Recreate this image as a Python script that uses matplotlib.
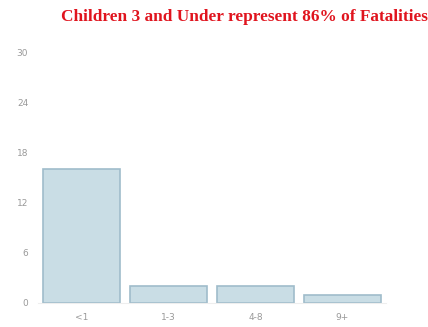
import matplotlib.pyplot as plt

ages = ['<1', '1-3', '4-8', '9+']
fatalities = [16, 2, 2, 1]
y_ticks = [0, 6, 12, 18, 24, 30]

fig = plt.figure(figsize=(4.28, 3.27), dpi=100)
ax = fig.add_axes([38 / 428, 24 / 327, 348 / 428, 251 / 327])

ax.bar(range(len(ages)), fatalities, width=0.885, color='#c9dde5',
       edgecolor='#9fbccb', linewidth=1.2)

ax.set_xlim(-0.5, len(ages) - 0.5)
ax.set_ylim(0, 30)
ax.set_yticks(y_ticks)
ax.set_xticks(range(len(ages)))
ax.set_xticklabels(ages)
ax.tick_params(length=0, labelsize=6.5, colors='#999999', pad=7)

for s in ['top', 'right', 'left']:
    ax.spines[s].set_visible(False)
ax.spines['bottom'].set_color('#eeeeee')

fig.text(0.572, 0.948, 'Children 3 and Under represent 86% of Fatalities',
         ha='center', va='center', color='#e0141e', fontsize=12.4,
         fontweight='bold', family='Liberation Serif')

plt.savefig('out.png', dpi=100)
